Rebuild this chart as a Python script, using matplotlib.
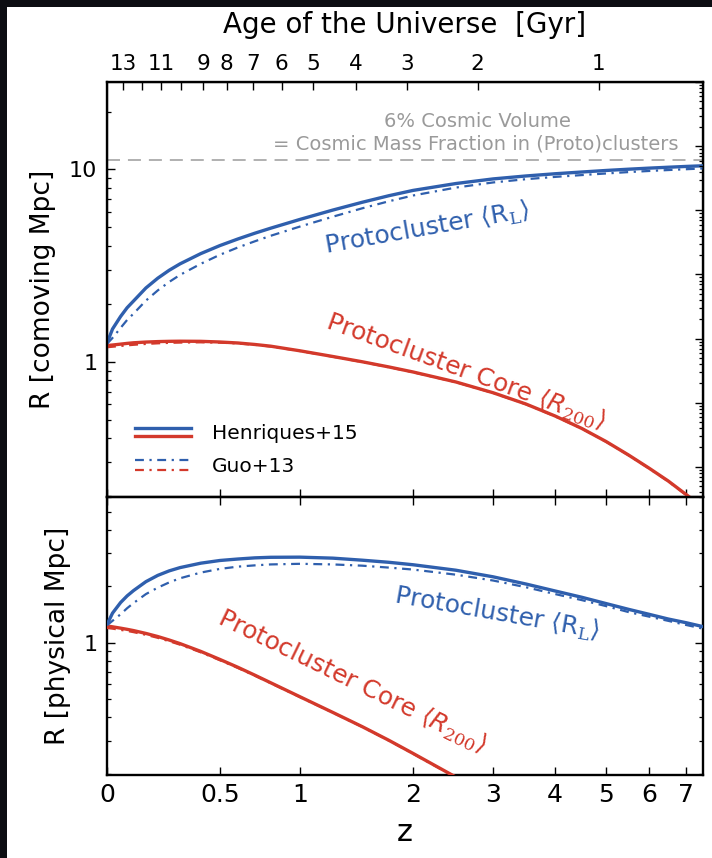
import numpy as np
import matplotlib
matplotlib.use("Agg")
import matplotlib.pyplot as plt
from matplotlib.lines import Line2D
from matplotlib.legend_handler import HandlerBase
from matplotlib.patches import Rectangle
from matplotlib.ticker import FixedLocator, NullFormatter, LogLocator

plt.rcParams['font.family'] = ['DejaVu Sans']
plt.rcParams['mathtext.fontset'] = 'custom'
plt.rcParams['mathtext.rm'] = 'DejaVu Serif'
plt.rcParams['mathtext.sf'] = 'DejaVu Sans'
plt.rcParams['mathtext.it'] = 'DejaVu Sans:italic'

# ---------------- data ----------------
z = [0, 0.02, 0.05, 0.075, 0.1, 0.15, 0.2, 0.25, 0.3, 0.4, 0.5, 0.6, 0.7, 0.8,
     1.0, 1.25, 1.5, 1.75, 2.0, 2.5, 3.0, 3.5, 4.0, 4.5, 5.0, 5.5, 6.0, 6.5,
     7.0, 7.5]

# comoving radii [Mpc]
rl_com_henriques = [1.25, 1.48, 1.72, 1.91, 2.07, 2.42, 2.72, 2.99, 3.23, 3.65,
                    4.02, 4.35, 4.66, 4.95, 5.50, 6.15, 6.75, 7.30, 7.78, 8.45,
                    8.93, 9.25, 9.50, 9.70, 9.88, 10.03, 10.16, 10.27, 10.37, 10.45]
rl_com_guo = [1.24, 1.33, 1.50, 1.65, 1.78, 2.08, 2.35, 2.60, 2.83, 3.23,
              3.60, 3.93, 4.23, 4.52, 5.05, 5.68, 6.28, 6.83, 7.32, 8.05,
              8.56, 8.90, 9.15, 9.35, 9.53, 9.69, 9.82, 9.93, 10.03, 10.12]
r200_com_henriques = [1.214, 1.222, 1.235, 1.246, 1.255, 1.266, 1.273, 1.277,
                      1.279, 1.277, 1.267, 1.252, 1.230, 1.205, 1.140, 1.065,
                      1.000, 0.940, 0.885, 0.785, 0.690, 0.603, 0.522, 0.450,
                      0.385, 0.328, 0.280, 0.240, 0.204, 0.175]
r200_com_guo = [1.190, 1.197, 1.208, 1.217, 1.225, 1.238, 1.247, 1.254,
                1.258, 1.262, 1.257, 1.245, 1.225, 1.200, 1.137, 1.062,
                0.997, 0.937, 0.882, 0.783, 0.688, 0.601, 0.520, 0.449,
                0.384, 0.327, 0.279, 0.239, 0.203, 0.175]

# physical radii [Mpc]
rl_phys_henriques = [1.25, 1.44, 1.64, 1.78, 1.90, 2.12, 2.29, 2.42, 2.52, 2.66,
                     2.75, 2.80, 2.84, 2.86, 2.865, 2.83, 2.76, 2.69, 2.61, 2.44,
                     2.25, 2.06, 1.89, 1.75, 1.62, 1.51, 1.42, 1.34, 1.28, 1.22]
rl_phys_guo = [1.24, 1.31, 1.42, 1.53, 1.63, 1.82, 1.97, 2.10, 2.21, 2.37,
               2.48, 2.55, 2.59, 2.62, 2.64, 2.62, 2.58, 2.52, 2.46, 2.31,
               2.15, 1.98, 1.82, 1.69, 1.57, 1.46, 1.38, 1.31, 1.245, 1.19]
z_core_phys = [0, 0.02, 0.05, 0.075, 0.1, 0.15, 0.2, 0.25, 0.3, 0.4, 0.5, 0.6,
               0.7, 0.8, 1.0, 1.25, 1.5, 1.75, 2.0, 2.5, 3.0]
r200_phys_henriques = [1.23, 1.217, 1.197, 1.18, 1.162, 1.122, 1.08, 1.035, 0.99,
                       0.90, 0.815, 0.74, 0.672, 0.612, 0.515, 0.425, 0.357,
                       0.302, 0.257, 0.192, 0.145]
r200_phys_guo = [1.20, 1.19, 1.172, 1.157, 1.14, 1.103, 1.063, 1.02, 0.977,
                 0.89, 0.807, 0.734, 0.668, 0.609, 0.513, 0.424, 0.356,
                 0.301, 0.256, 0.191, 0.145]

# cosmic-volume reference radius [comoving Mpc]
r_volume = 11.15

# redshift ticks and age-of-universe ticks
z_ticks = [0, 0.5, 1, 2, 3, 4, 5, 6, 7]
z_ticklabels = ['0', '0.5', '1', '2', '3', '4', '5', '6', '7']
age_gyr = [13, 12, 11, 10, 9, 8, 7, 6, 5, 4, 3, 2, 1]
age_z = [0.060, 0.133, 0.214, 0.304, 0.413, 0.537, 0.689, 0.873, 1.099,
         1.443, 1.934, 2.785, 4.843]
age_labels = ['13', '', '11', '', '9', '8', '7', '6', '5', '4', '3', '2', '1']

# ---------------- style ----------------
BLUE = '#2f5fad'
RED = '#d3392b'
GREY = '#9a9a9a'
DD = (0, (4, 2.5, 1, 2.5))
LW_SOLID = 2.4
LW_DD = 1.6


def fwd(x):
    with np.errstate(invalid='ignore', divide='ignore'):
        return np.log10(1.0 + np.asarray(x, dtype=float))


def inv(x):
    return 10.0 ** np.asarray(x, dtype=float) - 1.0


class PairHandler(HandlerBase):
    """Draws two stacked line samples (top/bottom) for one legend entry."""

    def __init__(self, offset, **kw):
        super().__init__(**kw)
        self.offset = offset

    def create_artists(self, legend, orig_handle, xdescent, ydescent,
                       width, height, fontsize, trans):
        x0, x1 = -xdescent, -xdescent + width
        yc = -ydescent + height / 2.0
        arts = []
        for ln, dy in zip(orig_handle, (self.offset, -self.offset)):
            a = Line2D([x0, x1], [yc + dy, yc + dy])
            a.update_from(ln)
            a.set_transform(trans)
            arts.append(a)
        return arts


W, H = 712, 858
fig = plt.figure(figsize=(W / 100, H / 100), dpi=100)
fig.patch.set_facecolor('#0c0d12')
fig.patches.append(Rectangle((7 / W, 0), 1, 1 - 7 / H, transform=fig.transFigure,
                             facecolor='white', edgecolor='none', zorder=-10))

left, right = 107 / W, 703 / W
ax1 = fig.add_axes([left, 1 - 497 / H, right - left, 415 / H])
ax2 = fig.add_axes([left, 1 - 775 / H, right - left, 278 / H])

for ax in (ax1, ax2):
    ax.set_xscale('function', functions=(fwd, inv))
    ax.set_xlim(0, 7.5)
    ax.set_yscale('log')
    ax.set_xticks(z_ticks)
    ax.set_xticklabels(z_ticklabels)
    ax.xaxis.set_minor_locator(FixedLocator([]))
    for s in ax.spines.values():
        s.set_linewidth(1.7)
    ax.tick_params(which='major', direction='in', length=6, width=1.0)
    ax.tick_params(which='minor', direction='in', length=3.2, width=0.9)

# ---- top panel: comoving ----
ax1.set_ylim(0.198, 28.5)
ax1.axhline(r_volume, color='#aaaaaa', lw=1.3, dashes=(7.2, 4.4), zorder=1)
ax1.plot(z, rl_com_henriques, color=BLUE, lw=LW_SOLID, zorder=3)
ax1.plot(z, r200_com_henriques, color=RED, lw=LW_SOLID, zorder=3)
ax1.plot(z, rl_com_guo, color=BLUE, lw=LW_DD, ls=DD, zorder=4)
ax1.plot(z, r200_com_guo, color=RED, lw=LW_DD, ls=DD, zorder=4)
ax1.yaxis.set_major_locator(FixedLocator([1, 10]))
ax1.set_yticklabels(['1', '10'])
ax1.yaxis.set_minor_locator(LogLocator(base=10, subs=np.arange(2, 10), numticks=50))
ax1.yaxis.set_minor_formatter(NullFormatter())
ax1.tick_params(axis='y', which='both', left=True, right=False, labelsize=16, pad=7)
ax1.tick_params(axis='x', which='both', bottom=True, top=False, labelbottom=False)
ax1.set_ylabel('R [comoving Mpc]', fontsize=19, labelpad=9)

ax1.text(0.621, 0.904, '6% Cosmic Volume', transform=ax1.transAxes,
         ha='center', va='center', fontsize=14, color=GREY)
ax1.text(0.619, 0.851, '= Cosmic Mass Fraction in (Proto)clusters',
         transform=ax1.transAxes, ha='center', va='center', fontsize=14, color=GREY)
ax1.text(0.537, 0.648, r'Protocluster $\langle\mathsf{R}_{\mathrm{L}}\rangle$',
         transform=ax1.transAxes, ha='center', va='center', rotation=10,
         rotation_mode='anchor', fontsize=18, color=BLUE)
ax1.text(0.601, 0.301, r'Protocluster Core $\langle R_{\mathrm{200}}\rangle$',
         transform=ax1.transAxes, ha='center', va='center', rotation=-20,
         rotation_mode='anchor', fontsize=18, color=RED)

h_hen = (Line2D([], [], color=BLUE, lw=LW_SOLID), Line2D([], [], color=RED, lw=LW_SOLID))
h_guo = (Line2D([], [], color=BLUE, lw=LW_DD, ls=DD), Line2D([], [], color=RED, lw=LW_DD, ls=DD))
ax1.legend([h_hen, h_guo], ['Henriques+15', 'Guo+13'],
           handler_map={h_hen: PairHandler(2.8), h_guo: PairHandler(3.6)},
           loc='lower left', bbox_to_anchor=(0.047, 0.05), borderaxespad=0,
           borderpad=0, frameon=False, fontsize=14.5, handlelength=2.8,
           handletextpad=1.0, labelspacing=0.7)

# right-hand mass axis (M ~ R^3), ticks only
k_mass = 43.5
axm = ax1.twinx()
axm.set_yscale('log')
axm.set_ylim(k_mass * 0.198 ** 3, k_mass * 28.5 ** 3)
mass_major = [10.0 ** e for e in range(-1, 7)]
mass_minor = [m * 10.0 ** e for e in range(-1, 7) for m in range(2, 10)]
axm.yaxis.set_major_locator(FixedLocator(mass_major))
axm.yaxis.set_minor_locator(FixedLocator(mass_minor))
axm.yaxis.set_major_formatter(NullFormatter())
axm.yaxis.set_minor_formatter(NullFormatter())
axm.tick_params(which='major', direction='in', length=6, width=1.0)
axm.tick_params(which='minor', direction='in', length=3.2, width=0.9)

# top age axis
axa = ax1.twiny()
axa.set_xscale('function', functions=(fwd, inv))
axa.set_xlim(0, 7.5)
axa.set_xticks(age_z)
axa.set_xticklabels(age_labels)
axa.xaxis.set_minor_locator(FixedLocator([]))
axa.tick_params(which='major', direction='in', length=6, width=1.0, labelsize=15.5, pad=6)
axa.set_xlabel('Age of the Universe  [Gyr]', fontsize=20, labelpad=15)

# ---- bottom panel: physical ----
ax2.set_ylim(0.197, 6.0)
ax2.plot(z, rl_phys_henriques, color=BLUE, lw=LW_SOLID, zorder=3)
ax2.plot(z_core_phys, r200_phys_henriques, color=RED, lw=LW_SOLID, zorder=3)
ax2.plot(z, rl_phys_guo, color=BLUE, lw=LW_DD, ls=DD, zorder=4)
ax2.plot(z_core_phys, r200_phys_guo, color=RED, lw=LW_DD, ls=DD, zorder=4)
ax2.yaxis.set_major_locator(FixedLocator([1]))
ax2.set_yticklabels(['1'])
ax2.yaxis.set_minor_locator(LogLocator(base=10, subs=np.arange(2, 10), numticks=50))
ax2.yaxis.set_minor_formatter(NullFormatter())
ax2.tick_params(axis='y', which='both', left=True, right=True, labelsize=16, pad=7)
ax2.tick_params(axis='x', which='both', bottom=True, top=True, labelsize=18, pad=6)
ax2.set_ylabel('R [physical Mpc]', fontsize=19, labelpad=9)
ax2.set_xlabel('z', fontsize=22, labelpad=8)

ax2.text(0.654, 0.579, r'Protocluster $\langle\mathsf{R}_{\mathrm{L}}\rangle$',
         transform=ax2.transAxes, ha='center', va='center', rotation=-10,
         rotation_mode='anchor', fontsize=18, color=BLUE)
ax2.text(0.411, 0.335, r'Protocluster Core $\langle R_{\mathrm{200}}\rangle$',
         transform=ax2.transAxes, ha='center', va='center', rotation=-26,
         rotation_mode='anchor', fontsize=18, color=RED)

fig.savefig('out.png', dpi=100, facecolor=fig.get_facecolor())
